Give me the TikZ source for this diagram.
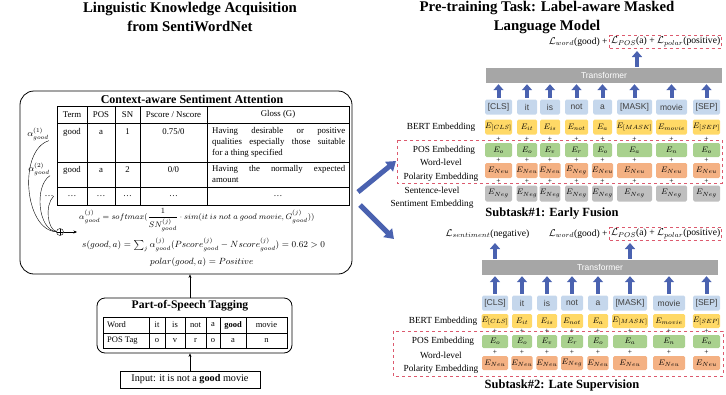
\documentclass[tikz,border=0pt]{standalone}
\usepackage{fontspec}
\setmainfont{Liberation Serif}
\newfontfamily\sansf{Liberation Sans}
\usetikzlibrary{arrows.meta}
\definecolor{tokc}{HTML}{C5D7EC}
\definecolor{bertc}{HTML}{FFD966}
\definecolor{posc}{HTML}{A9D18E}
\definecolor{polc}{HTML}{F4B183}
\definecolor{sentc}{HTML}{BFBFBF}
\definecolor{trc}{HTML}{A6A6A6}
\definecolor{arrc}{HTML}{4A62B0}
\definecolor{dred}{HTML}{DC5A6E}
\begin{document}
\begin{tikzpicture}[x=1pt,y=-1pt,
  tokbox/.style={fill=tokc, rounded corners=1.5pt, inner sep=0pt, minimum height=15pt, font=\sansf\fontsize{8.5}{9}\selectfont, text=black!75},
  embbox/.style={rounded corners=1.5pt, inner sep=0pt, font=\fontsize{8}{9}\selectfont},
  plusnode/.style={inner sep=0pt, font=\fontsize{7.5}{7.5}\selectfont},
  transbox/.style={fill=trc, inner sep=0pt, minimum height=15pt, font=\sansf\fontsize{8.5}{9}\selectfont, text=white},
  upar/.style={line width=4pt, draw=arrc, -{Triangle[width=10pt,length=6pt]}},
  bigar/.style={line width=5pt, draw=arrc, -{Triangle[width=12pt,length=9pt]}},
  embl/.style={font=\fontsize{9.3}{13.5}\selectfont, align=center, inner sep=0pt},
  lossbox/.style={draw=dred, dashed, line width=0.6pt},
  lossf/.style={font=\fontsize{9.6}{11}\selectfont, inner sep=1.5pt},
  redbox/.style={draw=dred, dashed, line width=0.6pt},
  ttl/.style={font=\bfseries\fontsize{14.8}{18.5}\selectfont, align=center},
  subttl/.style={font=\bfseries\fontsize{12.5}{14}\selectfont},
  cellf/.style={font=\fontsize{8.8}{11}\selectfont, inner sep=0pt},
  alphaf/.style={font=\fontsize{9}{11}\selectfont, inner sep=0pt},
  fml/.style={inner sep=0pt},
  sarrow/.style={-{Stealth[length=3.5pt,width=3pt]}, line width=0.5pt},
  glossf/.style={font=\fontsize{8.8}{11}\selectfont, inner sep=0pt, text width=133pt, align=justify, anchor=north west}
]
\useasboundingbox (0,0) rectangle (726,394);

% ================= LEFT PANEL =================
\node[ttl] (ltitle) at (190,17) {Linguistic Knowledge Acquisition\\from SentiWordNet};

\node[draw, rounded corners=14pt, minimum width=332pt, minimum height=183pt, line width=0.8pt] (big) at (186,182.5) {};
\node[font=\bfseries\fontsize{12}{13}\selectfont, inner sep=0pt] (cT) at (192,99) {Context-aware Sentiment Attention};

% table
\draw[line width=0.5pt] (57,106) rectangle (349,205);
\foreach \yy in {123,162,187} \draw[line width=0.5pt] (57,\yy) -- (349,\yy);
\foreach \xx in {87,115,140,207} \draw[line width=0.5pt] (\xx,106) -- (\xx,205);
\node[cellf] (h1) at (72,114.5) {Term};
\node[cellf] (h2) at (101,114.5) {POS};
\node[cellf] (h3) at (127.5,114.5) {SN};
\node[cellf] (h4) at (173.5,114.5) {Pscore / Nscore};
\node[cellf] (h5) at (278,114.5) {Gloss (G)};
\node[cellf] (r1a) at (72,132) {good};
\node[cellf] (r1b) at (101,132) {a};
\node[cellf] (r1c) at (127.5,132) {1};
\node[cellf] (r1d) at (173.5,132) {0.75/0};
\node[glossf] (r1e) at (212,127) {Having desirable or positive\linebreak qualities especially those suitable\linebreak for a thing specified};
\node[cellf] (r2a) at (72,170) {good};
\node[cellf] (r2b) at (101,170) {a};
\node[cellf] (r2c) at (127.5,170) {2};
\node[cellf] (r2d) at (173.5,170) {0/0};
\node[glossf] (r2e) at (212,165) {Having the normally expected\linebreak amount};
\node[cellf] (r3a) at (72,196) {\dots};
\node[cellf] (r3b) at (101,196) {\dots};
\node[cellf] (r3c) at (127.5,196) {\dots};
\node[cellf] (r3d) at (173.5,196) {\dots};
\node[cellf] (r3e) at (278,196) {\dots};

% attention weights
\node[alphaf] (a1) at (38,134) {$\alpha^{(1)}_{good}$};
\node[alphaf] (a2) at (39,169) {$\alpha^{(2)}_{good}$};
\node[alphaf] (a3) at (49,196) {\dots};
\node[circle, draw, inner sep=0pt, minimum size=7pt, line width=0.4pt,
      path picture={\draw[line width=0.4pt] (path picture bounding box.north) -- (path picture bounding box.south) (path picture bounding box.west) -- (path picture bounding box.east);}] (sumc) at (60,232) {};
\draw[line width=0.4pt] (a1.south east) .. controls (18,150) and (24,230) .. (sumc);
\draw[line width=0.4pt] (a2.south east) .. controls (34,186) and (38,230) .. (sumc);
\draw[line width=0.4pt] (a3.east) .. controls (44,206) and (48,230) .. (sumc);
\coordinate (sumo) at (77,232);
\draw[sarrow] (sumc) -- (sumo);

% formulas
\node[fml, anchor=west, font=\fontsize{8.4}{10}\selectfont] (f1) at (79,220) {$\alpha^{(j)}_{good} = softmax({\displaystyle\frac{1}{SN^{(j)}_{good}}}\cdot sim(it\ is\ not\ a\ good\ movie, G^{(j)}_{good}))$};
\node[fml, anchor=west, font=\fontsize{8.95}{10}\selectfont] (f2) at (82,245) {$s(good, a) = \sum_j \alpha^{(j)}_{good}(Pscore^{(j)}_{good} - Nscore^{(j)}_{good}) = 0.62 > 0$};
\node[fml, anchor=west, font=\fontsize{8.9}{10}\selectfont] (f3) at (150,262) {$polar(good, a) = Positive$};

% POS tagging
\node[draw, rounded corners=8pt, minimum width=195pt, minimum height=55pt, line width=0.8pt] (posbox) at (194.5,325.5) {};
\node[font=\bfseries\fontsize{11.6}{13}\selectfont, inner sep=0pt] (pT) at (190,306) {Part-of-Speech Tagging};
\draw[line width=0.5pt] (103,317) rectangle (287,348);
\draw[line width=0.5pt] (103,333) -- (287,333);
\foreach \xx in {149,165,185,206,220,246} \draw[line width=0.5pt] (\xx,317) -- (\xx,348);
\node[cellf, anchor=west, font=\fontsize{8.5}{10}\selectfont] (w0) at (107,325) {Word};
\node[cellf, anchor=west, font=\fontsize{8.5}{10}\selectfont] (t0) at (107,340.5) {POS Tag};
\foreach \i/\xx/\ww/\tt in {1/157/it/o, 2/175/is/v, 3/195.5/not/r, 4/213/a/o, 6/266.5/movie/n}{
  \node[cellf, font=\fontsize{8.5}{10}\selectfont] (w\i) at (\xx,325) {\ww};
  \node[cellf, font=\fontsize{8.5}{10}\selectfont] (t\i) at (\xx,340.5) {\tt};
}
\node[cellf, font=\fontsize{8.5}{10}\selectfont] (w5) at (233,325) {\textbf{good}};
\node[cellf, font=\fontsize{8.5}{10}\selectfont] (t5) at (233,340.5) {a};

\node[draw, line width=0.6pt, minimum width=140pt, minimum height=17pt, inner sep=0pt, font=\fontsize{10.2}{11}\selectfont] (inp) at (190,379.5) {Input: it is not a \textbf{good} movie};
\draw[sarrow] (inp.north) -- (inp.north |- posbox.south);
\draw[sarrow] (inp.north |- posbox.north) -- (inp.north |- big.south);

% big blue arrows
\coordinate (b1s) at (358,192);
\coordinate (b1e) at (396,161);
\coordinate (b2s) at (360,205);
\coordinate (b2e) at (394,239);
\draw[bigar] (b1s) -- (b1e);
\draw[bigar] (b2s) -- (b2e);

% ================= RIGHT PANEL: TOP =================
\node[ttl] (rtitle) at (547,17.5) {Pre-training Task: Label-aware Masked\\Language Model};
\node[lossbox, lossf, anchor=east] (lpT) at (722,42) {$\mathcal{L}_{POS}$(a) + $\mathcal{L}_{polar}$(positive)};
\node[lossf, anchor=east] (lwT) at (lpT.west) {$\mathcal{L}_{word}$(good) +};
\node[transbox, minimum width=236pt] (trT) at (604,75.5) {Transformer};
\coordinate (oT) at (637,51);
\draw[upar, shorten <=1pt] (oT |- trT.north) -- (oT);

\draw[redbox] (397,140) rectangle (722,183);
\node[embl] (lb1) at (441,127) {BERT Embedding};
\node[embl] (lb2) at (444,150) {POS Embedding};
\node[embl] (lb3) at (441,170.5) {Word-level\\Polarity Embedding};
\node[embl] (lb4) at (432,198) {Sentence-level\\Sentiment Embedding};

\foreach \i/\c/\w/\tk/\ps/\pl in {1/498.5/27/[CLS]/o/Neu, 2/527/20/it/o/Neu, 3/550/20/is/v/Neu, 4/576.5/23/not/r/Neg, 5/602.5/19/a/o/Neu, 6/634.5/35/[MASK]/a/Neu, 7/671.5/31/movie/n/Neu, 8/706.5/27/[SEP]/o/Neu}{
  \node[tokbox, minimum width=\w pt] (tT\i) at (\c,107) {\tk};
  \node[embbox, fill=bertc, minimum width=\w pt, minimum height=15pt] (bT\i) at (\c,127) {$E_{\tk}$};
  \node[embbox, fill=posc, minimum width=\w pt, minimum height=14pt] (sT\i) at (\c,150) {$E_{\ps}$};
  \node[embbox, fill=polc, minimum width=\w pt, minimum height=15pt] (qT\i) at (\c,170.5) {$E_{\pl}$};
  \node[embbox, fill=sentc, minimum width=\w pt, minimum height=16pt] (nT\i) at (\c,193.5) {$E_{Neg}$};
  \node[plusnode] (paT\i) at (\c,139.5) {+};
  \node[plusnode] (pbT\i) at (\c,160.5) {+};
  \node[plusnode] (pcT\i) at (\c,181.5) {+};
  \draw[upar, shorten <=1.5pt, shorten >=1pt] (tT\i.north) -- (tT\i.north |- trT.south);
}
\node[subttl] (st1) at (552,214) {Subtask\#1: Early Fusion};

% ================= RIGHT PANEL: BOTTOM =================
\node[lossf] (lsB) at (487.5,234) {$\mathcal{L}_{sentiment}$(negative)};
\node[lossbox, lossf, anchor=east] (lpB) at (722,234) {$\mathcal{L}_{POS}$(a) + $\mathcal{L}_{polar}$(positive)};
\node[lossf, anchor=east] (lwB) at (lpB.west) {$\mathcal{L}_{word}$(good) +};
\node[transbox, minimum width=236pt] (trB) at (600,267.5) {Transformer};
\coordinate (oB1) at (495,243);
\coordinate (oB2) at (630,243);
\draw[upar, shorten <=1pt] (oB1 |- trB.north) -- (oB1);
\draw[upar, shorten <=1pt] (oB2 |- trB.north) -- (oB2);

\draw[redbox] (393,331) rectangle (723,376);
\node[embl] (lc1) at (443,321) {BERT Embedding};
\node[embl] (lc2) at (443,341.5) {POS Embedding};
\node[embl] (lc3) at (441,363) {Word-level\\Polarity Embedding};

\foreach \i/\c/\w/\tk/\ps/\pl in {1/495/26/[CLS]/o/Neu, 2/522/20/it/o/Neu, 3/547/20/is/v/Neu, 4/572/22/not/r/Neg, 5/598/20/a/o/Neu, 6/630/34/[MASK]/a/Neu, 7/669/32/movie/n/Neu, 8/706.5/27/[SEP]/o/Neu}{
  \node[tokbox, minimum width=\w pt] (tB\i) at (\c,303) {\tk};
  \node[embbox, fill=bertc, minimum width=\w pt, minimum height=14pt] (bB\i) at (\c,321) {$E_{\tk}$};
  \node[embbox, fill=posc, minimum width=\w pt, minimum height=13pt] (sB\i) at (\c,341.5) {$E_{\ps}$};
  \node[embbox, fill=polc, minimum width=\w pt, minimum height=14pt] (qB\i) at (\c,363) {$E_{\pl}$};
  \node[plusnode] (paB\i) at (\c,331) {+};
  \node[plusnode] (pbB\i) at (\c,352) {+};
  \draw[upar, shorten <=1.5pt, shorten >=1pt] (tB\i.north) -- (tB\i.north |- trB.south);
}
\node[subttl] (st2) at (562,385) {Subtask\#2: Late Supervision};
\end{tikzpicture}
\end{document}
